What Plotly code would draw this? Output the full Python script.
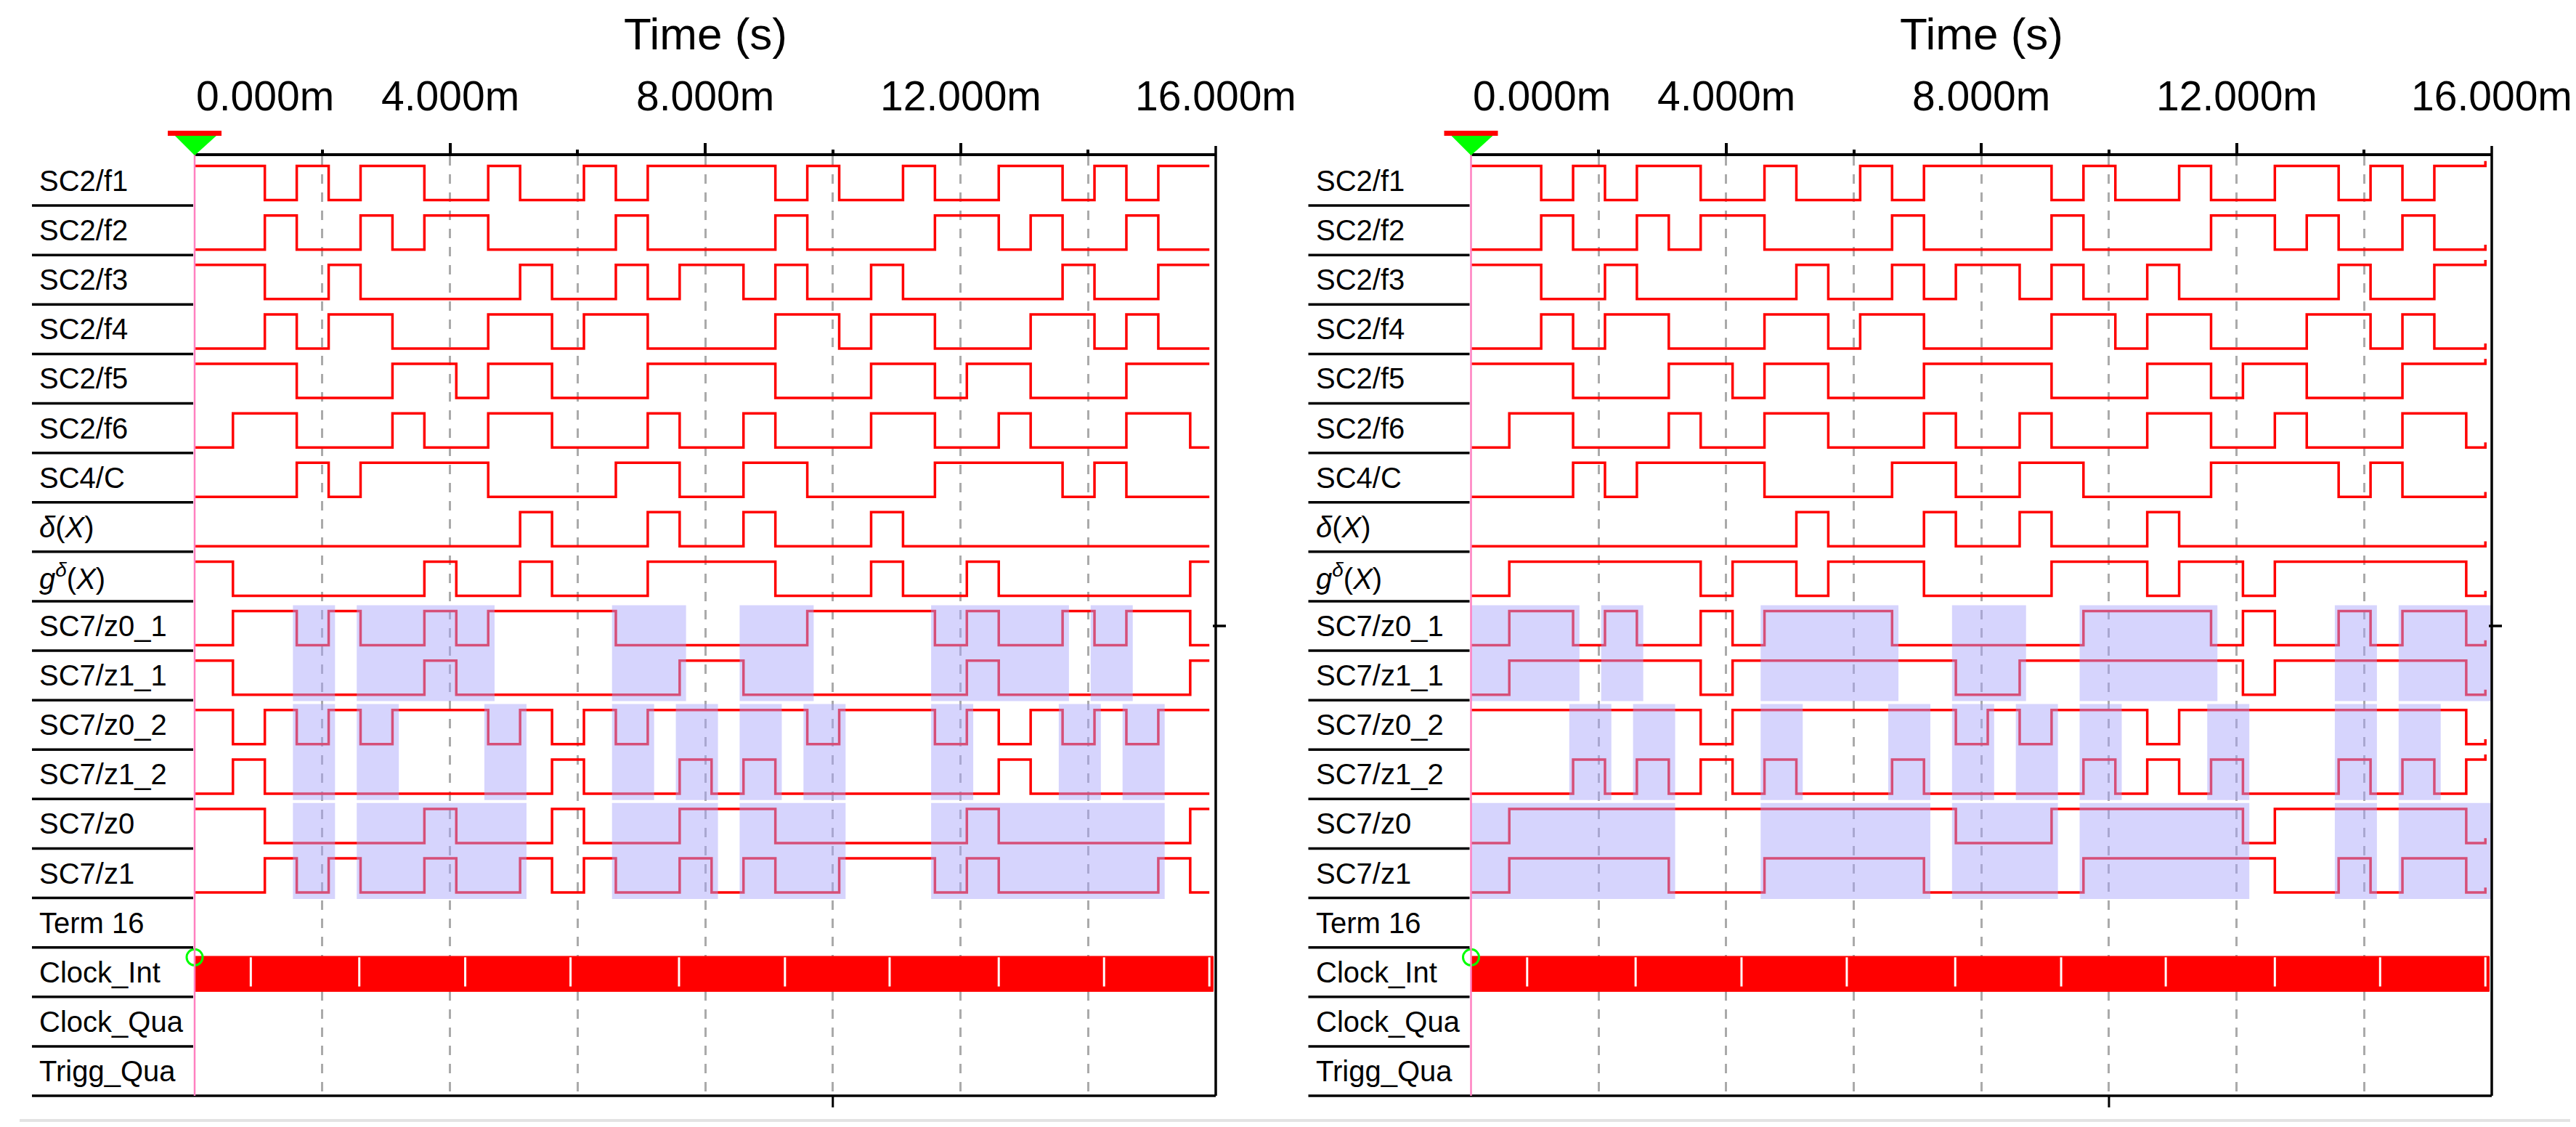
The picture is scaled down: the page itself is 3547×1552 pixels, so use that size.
import plotly.graph_objects as go

W, H = 3547, 1552
FONT = "Liberation Sans, Arial, sans-serif"
RED = "#ff0000"
GRID = "#aaaaaa"
SHADE = "rgba(170,166,250,0.48)"

# time axis, ms
T_RANGE = [0, 16]
MAJOR_TICKS = [4, 8, 12]
MINOR_TICKS = [2, 6, 10, 14]
TICK_VALUES = [0, 4, 8, 12, 16]
TICK_LABELS = ["0.000m", "4.000m", "8.000m", "12.000m", "16.000m"]

# the signals switch only on these instants (ms); one bit per slot between them
SLOT_EDGES = [0.6, 1.1, 1.6, 2.1, 2.6, 3.1, 3.6, 4.1, 4.6, 5.1, 5.6, 6.1, 6.6, 7.1, 7.6, 8.1,
              8.6, 9.1, 9.6, 10.1, 10.6, 11.1, 11.6, 12.1, 12.6, 13.1, 13.6, 14.1, 14.6, 15.1, 15.6]
T_END = 15.9
CLOCK_END = 15.96
CLOCK_MARKS = [0.88, 2.58, 4.24, 5.89, 7.59, 9.25, 10.89, 12.6, 14.25, 15.9]

ROW_NAMES = ["SC2/f1", "SC2/f2", "SC2/f3", "SC2/f4", "SC2/f5", "SC2/f6", "SC4/C",
             "<i>δ</i>(<i>X</i>)", "<i>g</i><sup><i>δ</i></sup>(<i>X</i>)",
             "SC7/z0_1", "SC7/z1_1", "SC7/z0_2", "SC7/z1_2", "SC7/z0", "SC7/z1",
             "Term 16", "Clock_Int", "Clock_Qua", "Trigg_Qua"]

# same in both runs
f1 = "11010110010010111101001001101011"
f2 = "00100101100001000010000110100100"
f3 = "11001000001001011010010000010011"
f4 = "00101100011011000011011000110100"
f5 = "11100011011000111100011011000111"
f6 = "01100010011000100100011001000110"
c4 = "00010111100001100110000111101000"
delta = "00000000001000100100010000000000"
z0_1 = "01101001011110000001111010010110"

# left run
g_left = "10000001001000111100010010000001"
z1_1_left = "10000001000000011000000010000001"
z0_2_left = "10101011101010111110111010101011"
z1_2_left = "01000000000100010100000001000000"
z0_left = "11000001000100011100000010000001"
z1_left = "00101001001010010100111010000010"

# right run
g_right = "01111110110111000011101101111110"
z1_1_right = "01111110111111100111111101111110"
z0_2_right = "11111110111111101011101111111110"
z1_2_right = "00010101010001000001010100010101"
z0_right = "01111111111111100011111101111110"
z1_right = "01111100011111000001111110010110"

# highlighted slots (rows z*_1, z*_2, z0/z1)
shade_1_left = "00010111100001100110000111101000"
shade_2_left = "00010100010001010101000100010100"
shade_3_left = "00010111110001110111000111111100"
shade_1_right = "11101000011110011001111000010111"
shade_2_right = "00010100010001010101000100010100"
shade_3_right = "11111100011111011101111100010111"

left_rows = [f1, f2, f3, f4, f5, f6, c4, delta, g_left, z0_1, z1_1_left,
             z0_2_left, z1_2_left, z0_left, z1_left]
right_rows = [f1, f2, f3, f4, f5, f6, c4, delta, g_right, z0_1, z1_1_right,
              z0_2_right, z1_2_right, z0_right, z1_right]
left_shades = [shade_1_left, shade_2_left, shade_3_left]
right_shades = [shade_1_right, shade_2_right, shade_3_right]

HIGH, LOW = 0.2, 0.89
PAD_L, PAD_R = 0.06, 0.1
CLOCK_ROW = 16


def slot_start(j):
    return 0.0 if j == 0 else SLOT_EDGES[j - 1]


def slot_end(j):
    return T_END if j >= len(SLOT_EDGES) else SLOT_EDGES[j]


def wave_xy(bits, row, end_tick):
    lv = lambda b: row + (HIGH if b == "1" else LOW)
    xs, ys = [0.0], [lv(bits[0])]
    for j in range(1, len(bits)):
        if bits[j] != bits[j - 1]:
            xs.append(slot_start(j))
            ys.append(lv(bits[j]))
    xs.append(T_END)
    ys.append(lv(bits[-1]))
    if end_tick:
        xs.append(T_END)
        ys.append(lv(bits[-1]) - 0.1)
    return xs, ys


def shade_xy(bits, row):
    xs, ys = [], []
    j = 0
    while j < len(bits):
        if bits[j] == "1":
            k = j
            while k + 1 < len(bits) and bits[k + 1] == "1":
                k += 1
            x0 = max(T_RANGE[0], slot_start(j) - PAD_L)
            x1 = min(T_RANGE[1], slot_end(k) + PAD_R)
            y0, y1 = row + 0.08, row + 2.02
            xs += [x0, x1, x1, x0, x0, None]
            ys += [y0, y0, y1, y1, y0, None]
            j = k + 1
        else:
            j += 1
    return xs, ys


def time_axis(dom):
    grid = dict(showgrid=True, gridcolor=GRID, gridwidth=2.5, griddash="13px,12px")
    return dict(domain=dom, range=T_RANGE, anchor="y", side="top",
                showline=True, linecolor="black", linewidth=3.5,
                ticks="outside", tickmode="array", tickvals=MAJOR_TICKS,
                ticklen=14, tickwidth=3.5, tickcolor="black",
                showticklabels=False, zeroline=False, fixedrange=True,
                minor=dict(tickmode="array", tickvals=MINOR_TICKS, ticks="outside",
                           ticklen=5, tickwidth=3.5, tickcolor="black", **grid),
                **grid)


fig = go.Figure()
shapes = []
annotations = []

panels = [("x", left_rows, left_shades, False, [260 / W, 1666 / W]),
          ("x2", right_rows, right_shades, True, [2017.5 / W, 3423 / W])]

for ax, rows, shades, end_tick, dom in panels:
    pw = (dom[1] - dom[0]) * W
    dref = ax + " domain"

    for i, bits in enumerate(rows):
        xs, ys = wave_xy(bits, i, end_tick)
        fig.add_trace(go.Scatter(x=xs, y=ys, xaxis=ax, yaxis="y", mode="lines",
                                 line=dict(color=RED, width=3.5, shape="hv"),
                                 hoverinfo="skip", showlegend=False))

    # clock bar
    cy0, cy1 = CLOCK_ROW + HIGH - 0.02, CLOCK_ROW + LOW
    fig.add_trace(go.Scatter(x=[0, CLOCK_END, CLOCK_END, 0, 0], y=[cy0, cy0, cy1, cy1, cy0],
                             xaxis=ax, yaxis="y", mode="lines", fill="toself",
                             fillcolor=RED, line=dict(color=RED, width=1),
                             hoverinfo="skip", showlegend=False))
    mx, my = [], []
    for t in CLOCK_MARKS:
        mx += [t, t, None]
        my += [cy0 + 0.02, cy1 - 0.1, None]
    fig.add_trace(go.Scatter(x=mx, y=my, xaxis=ax, yaxis="y", mode="lines",
                             line=dict(color="white", width=3),
                             hoverinfo="skip", showlegend=False))

    # highlighted slots
    for n, bits in enumerate(shades):
        xs, ys = shade_xy(bits, 9 + 2 * n)
        fig.add_trace(go.Scatter(x=xs, y=ys, xaxis=ax, yaxis="y", mode="lines",
                                 fill="toself", fillcolor=SHADE, line=dict(width=0),
                                 hoverinfo="skip", showlegend=False))

    # start marker on the clock row
    fig.add_trace(go.Scatter(x=[0], y=[CLOCK_ROW + 0.2], xaxis=ax, yaxis="y", mode="markers",
                             marker=dict(symbol="circle-open", size=22, color="#00ff00",
                                         line=dict(width=3, color="#00ff00")),
                             cliponaxis=False, hoverinfo="skip", showlegend=False))

    # label column separators and bottom line
    for k in range(1, len(ROW_NAMES)):
        shapes.append(dict(type="line", xref=dref, yref="y domain",
                           x0=-224 / pw, x1=-2 / pw, y0=1 - k / len(ROW_NAMES),
                           y1=1 - k / len(ROW_NAMES),
                           line=dict(color="black", width=3.5), layer="above"))
    shapes.append(dict(type="line", xref=dref, yref="y domain", x0=-224 / pw, x1=1,
                       y0=0, y1=0, line=dict(color="black", width=3.5), layer="above"))
    # right border
    shapes.append(dict(type="line", xref=dref, yref="y domain", x0=1, x1=1,
                       y0=0, y1=1 + 14 / 1294, line=dict(color="black", width=3.5), layer="above"))
    # small marker at the right edge
    shapes.append(dict(type="line", xref=dref, yref="y domain", x0=1 - 4 / pw, x1=1 + 14 / pw,
                       y0=0.5, y1=0.5, line=dict(color="black", width=3.5), layer="above"))
    # bottom tick
    shapes.append(dict(type="line", xref=ax, yref="y domain", x0=10, x1=10,
                       y0=0, y1=-16 / 1294, line=dict(color="black", width=3), layer="above"))
    # cursor line at t=0
    shapes.append(dict(type="line", xref=dref, yref="y domain", x0=0, x1=0,
                       y0=0, y1=1 + 7 / 1294, line=dict(color="#ff80c0", width=2.5), layer="above"))
    # cursor flag above the axis
    shapes.append(dict(type="path", xref=dref, yref="y domain",
                       path=f"M {-28 / pw},{1 + 29 / 1294} L {31 / pw},{1 + 29 / 1294} "
                            f"L 0,{1 + 1 / 1294} Z",
                       fillcolor="#00ff00", line=dict(width=0), layer="above"))
    shapes.append(dict(type="rect", xref=dref, yref="y domain",
                       x0=-37 / pw, x1=37 / pw, y0=1 + 28 / 1294, y1=1 + 35 / 1294,
                       fillcolor=RED, line=dict(width=0), layer="above"))

    for i, name in enumerate(ROW_NAMES):
        annotations.append(dict(text=name, xref=dref, x=0, xshift=-216, xanchor="left",
                                yref="y", y=i + 0.5, yanchor="middle", showarrow=False,
                                font=dict(family=FONT, size=40, color="black")))
    for v, lab in zip(TICK_VALUES, TICK_LABELS):
        annotations.append(dict(text=lab, xref=ax, x=v, xanchor="left" if v == 0 else "center",
                                yref="y domain", y=1, yshift=83, yanchor="middle",
                                showarrow=False, font=dict(family=FONT, size=57, color="black")))
    annotations.append(dict(text="Time (s)", xref=ax, x=8, xanchor="center",
                            yref="y domain", y=1, yshift=168, yanchor="middle",
                            showarrow=False, font=dict(family=FONT, size=62, color="black")))

# window edge at the bottom
shapes.append(dict(type="line", xref="paper", yref="paper", x0=19 / W, x1=1,
                   y0=1 - 1535 / H, y1=1 - 1535 / H, line=dict(color="#e3e3e3", width=4)))

fig.update_layout(
    width=W, height=H,
    margin=dict(l=0, r=0, t=0, b=0),
    paper_bgcolor="white", plot_bgcolor="white",
    showlegend=False,
    xaxis=time_axis(panels[0][4]),
    xaxis2=time_axis(panels[1][4]),
    yaxis=dict(domain=[1 - 1501 / H, 1 - 207 / H], range=[19, 0], visible=False, fixedrange=True),
    shapes=shapes,
    annotations=annotations,
)

fig.write_html("out.html")
